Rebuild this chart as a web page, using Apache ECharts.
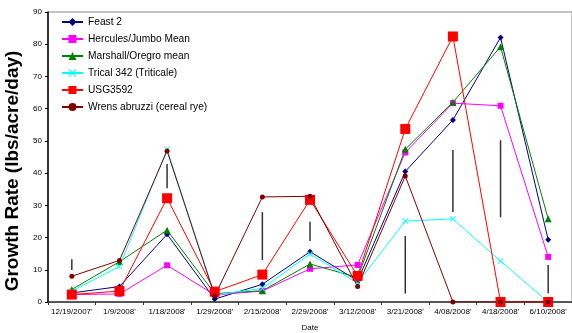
<!DOCTYPE html>
<html><head><meta charset="utf-8">
<script src="https://cdn.jsdelivr.net/npm/echarts@6/dist/echarts.min.js"></script>
<style>html,body{margin:0;padding:0;background:#fff}#c{width:572px;height:333px}</style>
</head><body><div id="c"></div>
<script>
var categories = ["12/19/2007'","1/9/2008'","1/18/2008'","1/29/2008'","2/15/2008'","2/29/2008'","3/12/2008'","3/21/2008'","4/08/2008'","4/18/2008'","6/10/2008'"];
var feast2   = [2.8, 4.8, 21.0, 0.9, 5.5, 15.6, 6.6, 40.5, 56.5, 82.1, 19.3];
var hercules = [2.3, 2.5, 11.4, 2.2, 3.4, 10.3, 11.5, 46.4, 61.7, 60.9, 14.0];
var marshall = [3.9, 12.5, 22.3, 2.6, 3.5, 11.8, 7.6, 47.4, 62.0, 79.2, 25.8];
var trical   = [3.4, 11.0, 47.4, 2.2, 4.2, 14.9, 5.9, 25.1, 25.8, 12.7, 0.0];
var usg3592  = [2.3, 3.4, 32.2, 3.2, 8.5, 31.7, 8.1, 53.7, 82.4, 0.0, 0.0];
var wrens    = [8.0, 12.9, 46.9, 1.9, 32.6, 32.8, 4.8, 39.1, 0.0, 0.0, 0.0];
// error bars: [category index, low, high]
var errorBars = [[0, 9.9, 13.3],[2, 35.3, 42.8],[4, 13.0, 27.9],[5, 18.9, 24.9],[7, 2.6, 20.5],[8, 27.9, 47.2],[9, 26.3, 50.2],[10, 2.7, 11.5]];
var yTicks = [0,10,20,30,40,50,60,70,80,90];

var xShape = 'path://M0,1L1,0L5,4L9,0L10,1L6,5L10,9L9,10L5,6L1,10L0,9L4,5Z';
function mk(name, data, color, symbol, size) {
  return {name:name, type:'line', data:data, symbol:symbol, symbolSize:size,
    showAllSymbol:true, lineStyle:{color:color, width:1}, itemStyle:{color:color},
    emphasis:{disabled:true}, z:3};
}
var chart = echarts.init(document.getElementById('c'), null, {renderer:'canvas'});
chart.setOption({
  animation:false,
  textStyle:{fontFamily:'Liberation Sans, Arial, sans-serif'},
  grid:{left:48, top:12, width:524, height:290, outerBoundsMode:'none', containLabel:false,
    show:true, borderColor:'#888', borderWidth:1, backgroundColor:'transparent'},
  legend:{orient:'vertical', left:61, top:17, padding:0, itemWidth:21, itemHeight:10, itemGap:7,
    data:['Feast 2','Hercules/Jumbo Mean','Marshall/Oregro mean','Trical 342 (Triticale)','USG3592','Wrens abruzzi (cereal rye)'],
    textStyle:{fontSize:10.2, color:'#000'}},
  xAxis:{type:'category', data:categories, boundaryGap:true,
    name:'Date', nameLocation:'middle', nameGap:22, nameTextStyle:{fontSize:8, color:'#000'},
    axisLine:{lineStyle:{color:'#333', width:1.5}},
    axisTick:{show:true, inside:false, length:3, lineStyle:{color:'#333'}},
    axisLabel:{fontSize:8, color:'#000', interval:0, margin:6},
    splitLine:{show:false}},
  yAxis:{type:'value', min:0, max:90, interval:10,
    name:'Growth Rate (lbs/acre/day)', nameLocation:'middle', nameGap:24,
    nameTextStyle:{fontSize:19, fontWeight:'bold', color:'#000', padding:[0,28,0,0]},
    axisLine:{show:true, lineStyle:{color:'#000', width:1.5}},
    axisTick:{show:true, length:3, lineStyle:{color:'#000'}},
    axisLabel:{fontSize:8, color:'#000', margin:6},
    splitLine:{show:false}},
  series:[
    mk('Feast 2', feast2, '#000080', 'diamond', 6),
    mk('Hercules/Jumbo Mean', hercules, '#FF00FF', 'rect', 6),
    mk('Marshall/Oregro mean', marshall, '#008000', 'triangle', 7),
    mk('Trical 342 (Triticale)', trical, '#00FFFF', xShape, 6),
    mk('USG3592', usg3592, '#FF0000', 'rect', 10),
    mk('Wrens abruzzi (cereal rye)', wrens, '#800000', 'circle', 5),
    {type:'custom', data:errorBars, z:2, silent:true,
      encode:{x:0, y:[1,2]},
      renderItem:function(params, api){
        var a = api.coord([api.value(0), api.value(1)]);
        var b = api.coord([api.value(0), api.value(2)]);
        return {type:'line', shape:{x1:a[0], y1:a[1], x2:b[0], y2:b[1]}, style:{stroke:'#333', lineWidth:1.5}};
      }}
  ]
});
</script></body></html>
